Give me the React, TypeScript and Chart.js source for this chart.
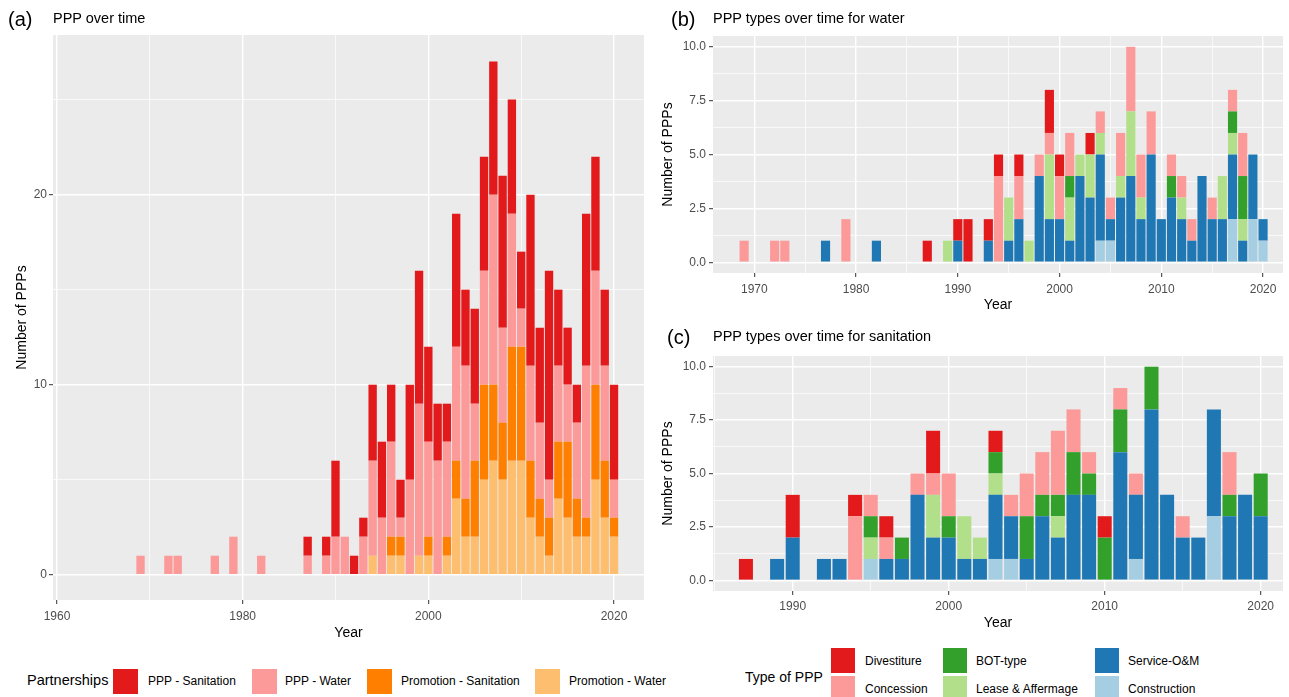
import React, { useEffect, useRef } from "react";
import { Chart, registerables } from "chart.js";

Chart.register(...registerables);

const FONT = "'Liberation Sans', Arial, Helvetica, sans-serif";

// Years with at least one partnership (shared by all panels)
const years = [
  1969, 1972, 1973, 1977, 1979, 1982, 1987, 1989, 1990, 1991, 1992, 1993,
  1994, 1995, 1996, 1997, 1998, 1999, 2000, 2001, 2002, 2003,
  2004, 2005, 2006, 2007, 2008, 2009, 2010, 2011, 2012, 2013,
  2014, 2015, 2016, 2017, 2018, 2019, 2020,
];

// (a) PPP over time
const promotionWater = [
  0, 0, 0, 0, 0, 0, 0, 0, 0, 0, 0, 0,
  1, 0, 1, 1, 0, 1, 1, 0, 1, 4,
  2, 2, 5, 6, 5, 6, 6, 3, 2, 1,
  4, 3, 2, 2, 5, 3, 2,
];
const promotionSanitation = [
  0, 0, 0, 0, 0, 0, 0, 0, 0, 0, 0, 0,
  0, 0, 1, 1, 0, 0, 1, 0, 1, 2,
  2, 4, 5, 4, 3, 6, 6, 3, 2, 2,
  3, 4, 2, 1, 5, 3, 1,
];
const pppWater = [
  1, 1, 1, 1, 2, 1, 1, 1, 2, 2, 0, 2,
  5, 3, 5, 1, 5, 8, 5, 6, 5, 6,
  7, 3, 6, 10, 5, 7, 2, 5, 4, 2,
  4, 3, 4, 8, 6, 5, 2,
];
const pppSanitation = [
  0, 0, 0, 0, 0, 0, 1, 1, 4, 0, 1, 1,
  4, 4, 3, 2, 5, 7, 5, 3, 2, 7,
  4, 5, 6, 7, 8, 6, 3, 9, 5, 11,
  4, 3, 2, 8, 6, 4, 5,
];

// (b) PPP types for water
const divestitureW = [
  0, 0, 0, 0, 0, 0, 1, 0, 1, 2, 0, 1,
  1, 0, 1, 0, 0, 2, 1, 0, 0, 1,
  0, 0, 0, 0, 0, 0, 0, 0, 0, 0,
  0, 0, 0, 0, 0, 0, 0,
];
const concessionW = [
  1, 1, 1, 0, 2, 0, 0, 0, 0, 0, 0, 0,
  4, 0, 2, 0, 1, 1, 2, 2, 0, 0,
  1, 1, 2, 3, 2, 2, 0, 1, 1, 1,
  0, 1, 0, 1, 2, 0, 0,
];
const botW = [
  0, 0, 0, 0, 0, 0, 0, 0, 0, 0, 0, 0,
  0, 0, 0, 0, 0, 0, 0, 1, 0, 0,
  0, 0, 0, 0, 0, 0, 0, 1, 0, 0,
  0, 0, 0, 1, 2, 0, 0,
];
const leaseW = [
  0, 0, 0, 0, 0, 0, 0, 1, 0, 0, 0, 0,
  0, 2, 0, 1, 0, 3, 0, 2, 1, 2,
  1, 0, 1, 3, 1, 0, 0, 0, 1, 0,
  0, 0, 2, 1, 1, 0, 0,
];
const serviceW = [
  0, 0, 0, 1, 0, 1, 0, 0, 1, 0, 0, 1,
  0, 1, 2, 0, 4, 2, 2, 1, 4, 3,
  4, 1, 3, 4, 2, 5, 2, 3, 2, 1,
  4, 2, 2, 3, 1, 3, 1,
];
const constructionW = [
  0, 0, 0, 0, 0, 0, 0, 0, 0, 0, 0, 0,
  0, 0, 0, 0, 0, 0, 0, 0, 0, 0,
  1, 1, 0, 0, 0, 0, 0, 0, 0, 0,
  0, 0, 0, 2, 0, 2, 1,
];

// (c) PPP types for sanitation
const divestitureS = [
  0, 0, 0, 0, 0, 0, 1, 0, 2, 0, 0, 0,
  1, 0, 1, 0, 0, 2, 0, 0, 0, 1,
  0, 0, 0, 0, 0, 0, 1, 0, 0, 0,
  0, 0, 0, 0, 0, 0, 0,
];
const concessionS = [
  0, 0, 0, 0, 0, 0, 0, 0, 0, 0, 0, 0,
  3, 1, 1, 0, 1, 1, 2, 0, 0, 0,
  1, 2, 2, 3, 2, 1, 0, 1, 1, 0,
  0, 1, 0, 0, 2, 0, 0,
];
const botS = [
  0, 0, 0, 0, 0, 0, 0, 0, 0, 0, 0, 0,
  0, 1, 0, 1, 0, 0, 1, 0, 0, 1,
  0, 2, 1, 1, 2, 1, 2, 2, 0, 2,
  0, 0, 0, 0, 1, 0, 2,
];
const leaseS = [
  0, 0, 0, 0, 0, 0, 0, 0, 0, 0, 0, 0,
  0, 1, 0, 0, 0, 2, 0, 2, 1, 1,
  0, 0, 0, 1, 0, 0, 0, 0, 0, 0,
  0, 0, 0, 0, 0, 0, 0,
];
const serviceS = [
  0, 0, 0, 0, 0, 0, 0, 1, 2, 0, 1, 1,
  0, 0, 1, 1, 4, 2, 2, 1, 1, 3,
  2, 1, 3, 2, 4, 4, 0, 6, 3, 8,
  4, 2, 2, 5, 3, 4, 3,
];
const constructionS = [
  0, 0, 0, 0, 0, 0, 0, 0, 0, 0, 0, 0,
  0, 1, 0, 0, 0, 0, 0, 0, 0, 1,
  1, 0, 0, 0, 0, 0, 0, 0, 1, 0,
  0, 0, 0, 3, 0, 0, 0,
];

// Tick values
const xTicksA = [1960, 1970, 1980, 1990, 2000, 2010, 2020];
const yTicksA = [0, 5, 10, 15, 20, 25];
const xTicksB = [1970, 1975, 1980, 1985, 1990, 1995, 2000, 2005, 2010, 2015, 2020];
const xTicksC = [1985, 1990, 1995, 2000, 2005, 2010, 2015, 2020];
const yTicksBC = [0, 1.25, 2.5, 3.75, 5, 6.25, 7.5, 8.75, 10];

const partnershipLabels = ["PPP - Sanitation", "PPP - Water", "Promotion - Sanitation", "Promotion - Water"];
const partnershipColors = ["#E31A1C", "#FB9A99", "#FF7F00", "#FDBF6F"];
const typeLabels = ["Divestiture", "Concession", "BOT-type", "Lease & Affermage", "Service-O&M", "Construction"];
const typeColors = ["#E31A1C", "#FB9A99", "#33A02C", "#B2DF8A", "#1F78B4", "#A6CEE3"];

type Series = { label: string; color: string; values: number[] };

const seriesA: Series[] = [
  { label: partnershipLabels[3], color: partnershipColors[3], values: promotionWater },
  { label: partnershipLabels[2], color: partnershipColors[2], values: promotionSanitation },
  { label: partnershipLabels[1], color: partnershipColors[1], values: pppWater },
  { label: partnershipLabels[0], color: partnershipColors[0], values: pppSanitation },
];
const typeSeries = (v: number[][]): Series[] =>
  [5, 4, 3, 2, 1, 0].map((k) => ({ label: typeLabels[k], color: typeColors[k], values: v[k] }));
const seriesB = typeSeries([divestitureW, concessionW, botW, leaseW, serviceW, constructionW]);
const seriesC = typeSeries([divestitureS, concessionS, botS, leaseS, serviceS, constructionS]);

const bgPlugin = {
  id: "panelBg",
  beforeDraw(chart: any) {
    const { ctx, chartArea } = chart;
    if (!chartArea) return;
    ctx.save();
    ctx.fillStyle = "#EBEBEB";
    ctx.fillRect(chartArea.left, chartArea.top, chartArea.right - chartArea.left, chartArea.bottom - chartArea.top);
    ctx.restore();
  },
};

type PanelCfg = {
  series: Series[];
  xMin: number; xMax: number; xTicks: number[]; xStep: number;
  yMin: number; yMax: number; yTicks: number[]; yStep: number; yDec: number;
  padTop: number; padRight: number; yWidth: number; xHeight: number;
  yTitlePad: number; xTitlePad: number; xTickPad: number; yTickPad: number;
};

const isMajor = (v: number, step: number) => Math.abs(v / step - Math.round(v / step)) < 1e-6;

function buildChart(canvas: HTMLCanvasElement, p: PanelCfg) {
  const grid = (step: number) => ({
    color: "#FFFFFF",
    offset: false,
    lineWidth: (c: any) => (c.tick && isMajor(c.tick.value, step) ? 1.4 : 0.7),
    tickColor: (c: any) => (c.tick && isMajor(c.tick.value, step) ? "#333333" : "rgba(0,0,0,0)"),
    tickLength: 4,
    tickWidth: 1,
    drawTicks: true,
  });
  return new Chart(canvas, {
    type: "bar",
    data: {
      datasets: p.series.map((s) => ({
        label: s.label,
        backgroundColor: s.color,
        borderWidth: 0,
        categoryPercentage: 1,
        barPercentage: 0.9,
        data: years.map((yr, i) => ({ x: yr, y: s.values[i] })).filter((d) => d.y > 0),
      })),
    } as any,
    options: {
      animation: false,
      responsive: false,
      maintainAspectRatio: false,
      devicePixelRatio: 1,
      layout: { padding: { top: p.padTop, right: p.padRight, left: 0, bottom: 0 } },
      plugins: { legend: { display: false }, tooltip: { enabled: false } },
      scales: {
        x: {
          type: "linear",
          stacked: true,
          offset: false,
          min: p.xMin,
          max: p.xMax,
          afterBuildTicks: (s: any) => { s.ticks = p.xTicks.map((v) => ({ value: v })); },
          afterFit: (s: any) => { s.height = p.xHeight; },
          grid: grid(p.xStep),
          border: { display: false },
          ticks: {
            autoSkip: false,
            maxRotation: 0,
            padding: p.xTickPad,
            color: "#4D4D4D",
            font: { family: FONT, size: 12 },
            callback: (v: any) => (isMajor(Number(v), p.xStep) ? String(v) : ""),
          },
          title: { display: true, text: "Year", color: "#000", font: { family: FONT, size: 14 }, padding: { top: 0, bottom: p.xTitlePad } },
        },
        y: {
          type: "linear",
          stacked: true,
          min: p.yMin,
          max: p.yMax,
          afterBuildTicks: (s: any) => { s.ticks = p.yTicks.map((v) => ({ value: v })); },
          afterFit: (s: any) => { s.width = p.yWidth; },
          grid: grid(p.yStep),
          border: { display: false },
          ticks: {
            padding: p.yTickPad,
            color: "#4D4D4D",
            font: { family: FONT, size: 12 },
            callback: (v: any) => (isMajor(Number(v), p.yStep) ? Number(v).toFixed(p.yDec) : ""),
          },
          title: { display: true, text: "Number of PPPs", color: "#000", font: { family: FONT, size: 14 }, padding: { top: p.yTitlePad, bottom: 0 } },
        },
      },
    } as any,
    plugins: [bgPlugin],
  });
}

const cfgA: PanelCfg = {
  series: seriesA, xMin: 1959.57, xMax: 2023.23, xTicks: xTicksA, xStep: 20,
  yMin: -1.33, yMax: 28.4, yTicks: yTicksA, yStep: 10, yDec: 0,
  padTop: 35, padRight: 6, yWidth: 53, xHeight: 48, yTitlePad: 13.6, xTitlePad: 6.6, xTickPad: 5, yTickPad: 2,
};
const cfgB: PanelCfg = {
  series: seriesB, xMin: 1965.94, xMax: 2021.96, xTicks: xTicksB, xStep: 10,
  yMin: -0.5, yMax: 10.5, yTicks: yTicksBC, yStep: 2.5, yDec: 1,
  padTop: 36, padRight: 6, yWidth: 68, xHeight: 42, yTitlePad: 14.6, xTitlePad: 1.6, xTickPad: 5, yTickPad: 3,
};
const cfgC: PanelCfg = {
  series: seriesC, xMin: 1984.89, xMax: 2021.43, xTicks: xTicksC, xStep: 10,
  yMin: -0.5, yMax: 10.5, yTicks: yTicksBC, yStep: 2.5, yDec: 1,
  padTop: 36, padRight: 6, yWidth: 68, xHeight: 47, yTitlePad: 14.6, xTitlePad: 6.6, xTickPad: 4, yTickPad: 3,
};

function Txt(props: { x: number; cy: number; size: number; children: any }) {
  const { x, cy, size, children } = props;
  return (
    <div style={{ position: "absolute", left: x, top: cy - size * 0.6, fontSize: size, lineHeight: `${size * 1.2}px`, whiteSpace: "nowrap", color: "#000" }}>
      {children}
    </div>
  );
}

function Key(props: { x: number; y: number; w: number; h: number; color: string }) {
  const { x, y, w, h, color } = props;
  return <div style={{ position: "absolute", left: x, top: y, width: w, height: h, background: color }} />;
}

export default function App() {
  const refA = useRef<HTMLCanvasElement>(null);
  const refB = useRef<HTMLCanvasElement>(null);
  const refC = useRef<HTMLCanvasElement>(null);

  useEffect(() => {
    const charts = [
      buildChart(refA.current!, cfgA),
      buildChart(refB.current!, cfgB),
      buildChart(refC.current!, cfgC),
    ];
    return () => charts.forEach((c) => c.destroy());
  }, []);

  const legendAKeyX = [113, 252, 367, 535];
  const legendATextX = [148, 285, 401, 569];
  const legendBColX = [831, 943, 1095];
  const legendBTextX = [865, 976, 1128];
  const legendBRowY = [648, 676];

  return (
    <div style={{ position: "absolute", left: 0, top: 0, width: 1289, height: 697, overflow: "hidden", background: "#fff", fontFamily: FONT }}>
      <canvas ref={refA} width={650} height={648} style={{ position: "absolute", left: 0, top: 0 }} />
      <canvas ref={refB} width={644} height={315} style={{ position: "absolute", left: 645, top: 0 }} />
      <canvas ref={refC} width={644} height={318} style={{ position: "absolute", left: 645, top: 320 }} />

      <Txt x={8} cy={19} size={20}>(a)</Txt>
      <Txt x={53} cy={19} size={14.5}>PPP over time</Txt>
      <Txt x={671} cy={19} size={20}>(b)</Txt>
      <Txt x={713} cy={19} size={14.5}>PPP types over time for water</Txt>
      <Txt x={667} cy={337} size={20}>(c)</Txt>
      <Txt x={713} cy={337} size={14.5}>PPP types over time for sanitation</Txt>

      <Txt x={27} cy={681} size={14.5}>Partnerships</Txt>
      {partnershipLabels.map((l, i) => (
        <React.Fragment key={l}>
          <Key x={legendAKeyX[i]} y={669} w={25} h={25} color={partnershipColors[i]} />
          <Txt x={legendATextX[i]} cy={681} size={12}>{l}</Txt>
        </React.Fragment>
      ))}

      <Txt x={745} cy={677} size={14}>Type of PPP</Txt>
      {typeLabels.map((l, i) => {
        const col = Math.floor(i / 2);
        const row = i % 2;
        return (
          <React.Fragment key={l}>
            <Key x={legendBColX[col]} y={legendBRowY[row]} w={24} h={25} color={typeColors[i]} />
            <Txt x={legendBTextX[col]} cy={legendBRowY[row] + 13} size={12}>{l}</Txt>
          </React.Fragment>
        );
      })}
    </div>
  );
}
